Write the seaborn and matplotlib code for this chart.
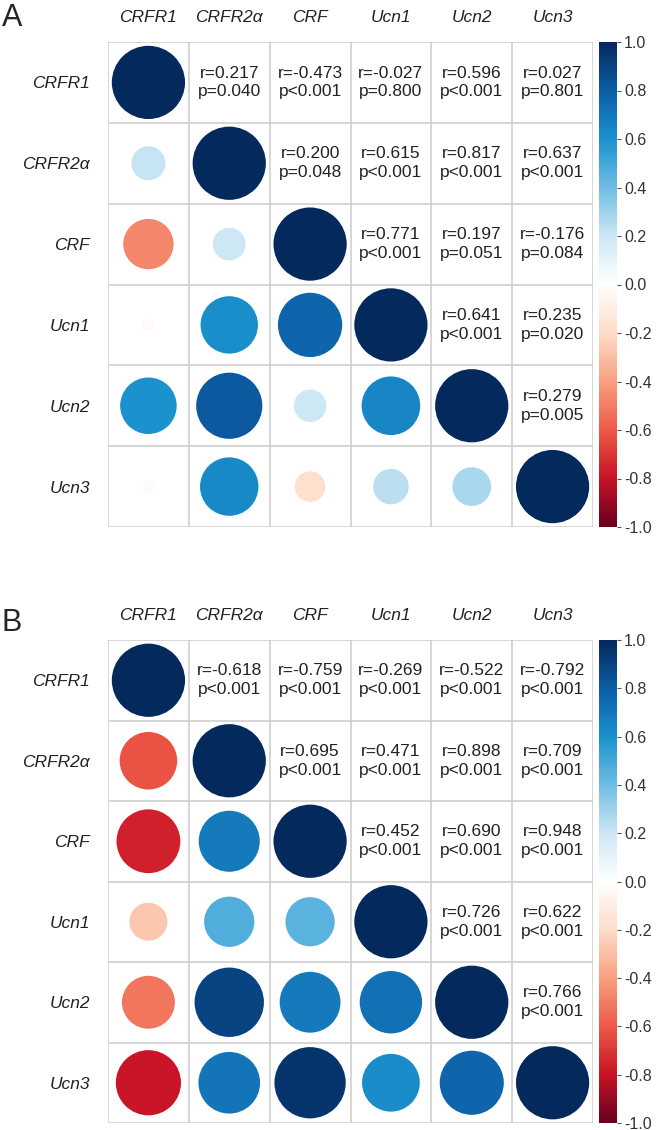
import numpy as np
import pandas as pd
import seaborn as sns
import matplotlib as mpl
from matplotlib import pyplot as plt
from matplotlib.colors import LinearSegmentedColormap

genes = ["CRFR1", "CRFR2α", "CRF", "Ucn1", "Ucn2", "Ucn3"]

# upper triangle, row by row (CRFR1-CRFR2α, CRFR1-CRF, ...)
r_a = [0.217, -0.473, -0.027, 0.596, 0.027,
       0.200, 0.615, 0.817, 0.637,
       0.771, 0.197, -0.176,
       0.641, 0.235,
       0.279]
p_a = ["p=0.040", "p<0.001", "p=0.800", "p<0.001", "p=0.801",
       "p=0.048", "p<0.001", "p<0.001", "p<0.001",
       "p<0.001", "p=0.051", "p=0.084",
       "p<0.001", "p=0.020",
       "p=0.005"]

r_b = [-0.618, -0.759, -0.269, -0.522, -0.792,
       0.695, 0.471, 0.898, 0.709,
       0.452, 0.690, 0.948,
       0.726, 0.622,
       0.766]
p_b = ["p<0.001"] * 15

cbar_ticks = [-1.0, -0.8, -0.6, -0.4, -0.2, 0.0, 0.2, 0.4, 0.6, 0.8, 1.0]

# red-white-blue ramp, a bit more vivid than plain RdBu (like the figure)
cmap = LinearSegmentedColormap.from_list('corr', [
    (0.00, '#67001f'), (0.10, '#c81426'), (0.20, '#ee5a48'),
    (0.30, '#f8a080'), (0.40, '#fddcc8'), (0.50, '#ffffff'),
    (0.60, '#cde7f4'), (0.70, '#70bde4'), (0.80, '#1b92ce'),
    (0.90, '#0d5ea6'), (1.00, '#04295c')])

sns.set_style("white")
plt.rcParams['font.family'] = ['Liberation Sans', 'DejaVu Sans']

n = len(genes)
iu = np.triu_indices(n, 1)


def draw_panel(ax, cax, r_vals, p_vals, letter, letter_y):
    R = np.eye(n)
    R[iu] = r_vals
    R = R + np.triu(R, 1).T
    il = np.tril_indices(n)
    df = pd.DataFrame({'col': il[1], 'row': il[0], 'r': R[il]})
    df['size'] = df['r'].abs()

    sns.scatterplot(data=df, x='col', y='row', hue='r', size='size',
                    palette=cmap, hue_norm=(-1, 1),
                    sizes=(0, 2780), size_norm=(0, 1),
                    linewidth=0, legend=False, ax=ax, zorder=3)

    for (i, j), r, p in zip(zip(*iu), r_vals, p_vals):
        ax.text(j, i, f"r={r:.3f}\n{p}", ha='center', va='center',
                fontsize=12.5, color='#222222', linespacing=1.3)

    ax.set_xlim(-0.5, n - 0.5)
    ax.set_ylim(n - 0.5, -0.5)
    for k in np.arange(-0.5, n, 1.0):
        ax.axvline(k, color='#cccccc', lw=1.1, zorder=1)
        ax.axhline(k, color='#cccccc', lw=1.1, zorder=1)
    for s in ax.spines.values():
        s.set_visible(False)

    ax.xaxis.tick_top()
    ax.set_xticks(range(n))
    ax.set_xticklabels(genes, style='italic', fontsize=12.5, color='#222222')
    ax.set_yticks(range(n))
    ax.set_yticklabels(genes, style='italic', fontsize=12.5, color='#222222')
    ax.tick_params(axis='x', length=0, pad=12)
    ax.tick_params(axis='y', length=0, pad=13)
    ax.set_xlabel('')
    ax.set_ylabel('')

    sm = mpl.cm.ScalarMappable(norm=mpl.colors.Normalize(-1, 1), cmap=cmap)
    cb = fig.colorbar(sm, cax=cax, ticks=cbar_ticks)
    cb.outline.set_visible(False)
    cb.ax.set_yticklabels([f"{t:.1f}" for t in cbar_ticks])
    cb.ax.tick_params(length=3, width=0.8, color='#555555', labelsize=11.5,
                      labelcolor='#333333', pad=2)

    fig.text(0.003, letter_y, letter, fontsize=22, va='top', ha='left')


fig = plt.figure(figsize=(6.56, 11.3), dpi=100)
W, H = 656, 1130


def rect(x0, y0, x1, y1):
    return [x0 / W, 1 - y1 / H, (x1 - x0) / W, (y1 - y0) / H]


ax_a = fig.add_axes(rect(108, 42, 593, 527))
cax_a = fig.add_axes(rect(599, 42, 617, 527))
ax_b = fig.add_axes(rect(108, 640, 593, 1123))
cax_b = fig.add_axes(rect(599, 640, 617, 1123))

draw_panel(ax_a, cax_a, r_a, p_a, 'A', 1 - 3 / H)
draw_panel(ax_b, cax_b, r_b, p_b, 'B', 1 - 608 / H)

fig.savefig('out.png', dpi=100)
